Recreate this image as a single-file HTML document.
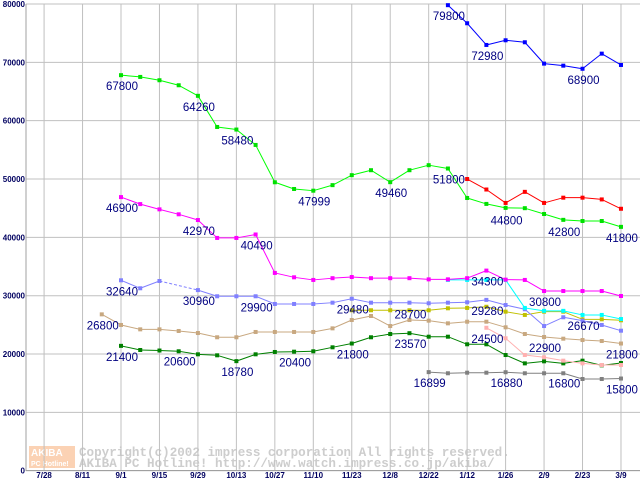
<!DOCTYPE html>
<html><head><meta charset="utf-8"><style>
body{margin:0;background:#fff;width:640px;height:480px;overflow:hidden}
svg{display:block}
</style></head><body>
<svg id="chart" width="640" height="480" xmlns="http://www.w3.org/2000/svg" font-family="'Liberation Sans',sans-serif">
<rect x="29" y="446" width="46" height="22" fill="#fbd2b4"/>
<text x="31" y="456" font-size="10" font-weight="bold" fill="#fff">AKIBA</text>
<text x="31" y="466" font-size="7" font-weight="bold" fill="#fff">PC Hotline!</text>
<text x="79" y="456" font-family="'Liberation Mono',monospace" font-weight="bold" font-size="12.6" fill="#cdcdcd">Copyright(c)2002 impress corporation All rights reserved.</text>
<text x="79" y="467" font-family="'Liberation Mono',monospace" font-weight="bold" font-size="12.6" fill="#cdcdcd">AKIBA PC Hotline!  http://www.watch.impress.co.jp/akiba/</text>
<g id="grid"></g><g id="series"></g><g id="labels"></g>
</svg>
<script>
const yTicks=[0,10000,20000,30000,40000,50000,60000,70000,80000];
const xTickLabels=["7/28","8/11","9/1","9/15","9/29","10/13","10/27","11/10","11/23","12/8","12/22","1/12","1/26","2/9","2/23","3/9"];
// index 0 = 9/1, weekly
const sLime=[[0,67800],[1,67500],[2,66930],[3,66070],[4,64260],[5,58920],[6,58480],[7,55840],[8,49440],[9,48290],[10,47999],[11,48950],[12,50660],[13,51510],[14,49460],[15,51510],[16,52370],[17,51800],[18,46750],[19,45730],[20,45050],[21,45000],[22,44000],[23,43000],[24,42800],[25,42800],[26,41800]];
const sBlue=[[17,79800],[18,76700],[19,72980],[20,73780],[21,73440],[22,69780],[23,69430],[24,68900],[25,71490],[26,69550]];
const sRed=[[18,50000],[19,48200],[20,45900],[21,47800],[22,45900],[23,46800],[24,46800],[25,46500],[26,44900]];
const sMagenta=[[0,46900],[1,45700],[2,44800],[3,43950],[4,42970],[5,39900],[6,39900],[7,40490],[8,33900],[9,33150],[10,32700],[11,33000],[12,33200],[13,33000],[14,33000],[15,33000],[16,32800],[17,32800],[18,33000],[19,34300],[20,32750],[21,32700],[22,30800],[23,30800],[24,30800],[25,30800],[26,29950]];
const sCyan=[[17,32700],[18,32700],[19,32700],[20,32700],[21,27900],[22,27400],[23,27400],[24,26700],[25,26700],[26,26000]];
const sPeri=[[0,32640],[1,31270],[2,32520],[4,30960],[5,29900],[6,29900],[7,29900],[8,28580],[9,28580],[10,28580],[11,28800],[12,29480],[13,28800],[14,28800],[15,28800],[16,28700],[17,28800],[18,28870],[19,29280],[20,28400],[21,27670],[22,24800],[23,26300],[24,25720],[25,24980],[26,24000]];
const sOlive=[[12,27500],[13,27500],[14,27500],[15,27500],[16,27500],[17,27840],[18,27900],[19,28100],[20,27260],[21,26700],[22,27260],[23,27260],[24,25950],[25,25950],[26,25780]];
const sTan=[[-1,26800],[0,24980],[1,24230],[2,24230],[3,23950],[4,23600],[5,22870],[6,22870],[7,23780],[8,23780],[9,23780],[10,23780],[11,24400],[12,25830],[13,26520],[14,24800],[15,25830],[16,25720],[17,25260],[18,25540],[19,25540],[20,24580],[21,23430],[22,22920],[23,22630],[24,22400],[25,22230],[26,21800]];
const sPink=[[19,24500],[20,22700],[21,19830],[22,19440],[23,18860],[24,18400],[25,18120],[26,18120]];
const sDkGreen=[[0,21400],[1,20690],[2,20600],[3,20470],[4,19950],[5,19780],[6,18780],[7,19950],[8,20350],[9,20400],[10,20470],[11,21150],[12,21800],[13,22870],[14,23430],[15,23570],[16,22970],[17,22970],[18,21670],[19,21670],[20,19830],[21,18400],[22,18750],[23,18400],[24,18860],[25,18060],[26,18460]];
const sGray=[[16,16899],[17,16700],[18,16800],[19,16800],[20,16880],[21,16700],[22,16700],[23,16700],[24,15720],[25,15720],[26,15800]];
const valueLabels=[["79800",17,79800],["72980",19,72980],["68900",24,68900],["67800",0,67800],["64260",4,64260],["58480",6,58480],["47999",10,47999],["49460",14,49460],["51800",17,51800],["44800",20,44800],["42800",23,42800],["41800",26,41800],["46900",0,46900],["42970",4,42970],["40490",7,40490],["34300",19,34300],["30800",22,30800],["32640",0,32640],["30960",4,30960],["29900",7,29900],["29480",12,29480],["28700",15,28700],["29280",19,29280],["26670",24,26670],["26800",-1,26800],["24500",19,24500],["22900",22,22900],["21800",12,21800],["21800",26,21800],["23570",15,23570],["21400",0,21400],["20600",3,20600],["18780",6,18780],["20400",9,20400],["16899",16,16899],["16880",20,16880],["16800",23,16800],["15800",26,15800]];
const NS="http://www.w3.org/2000/svg";
const X=i=>121+i*19.23;
const Y=v=>470.7-v*466.7/80000;
function mk(tag,attrs,parent){const e=document.createElementNS(NS,tag);for(const k in attrs)e.setAttribute(k,attrs[k]);parent.appendChild(e);return e;}
const grid=document.getElementById('grid');
yTicks.forEach(v=>{
  const l=mk('line',{x1:26,x2:640,y1:Y(v),y2:Y(v),stroke:'#c0c0c0','stroke-width':1},grid);
  
  
  const t=mk('text',{x:25,y:Y(v)+3,'text-anchor':'end','font-size':8,'font-weight':'bold',fill:'#000060'},grid);
  t.textContent=v;
  
  
});
xTickLabels.forEach((s,k)=>{
  const x=X(2*k-4);
  const l=mk('line',{x1:x,x2:x,y1:4,y2:470,stroke:'#c0c0c0','stroke-width':1},grid);
  
  
  const t=mk('text',{x:x,y:478,'text-anchor':'middle','font-size':8,'font-weight':'bold',fill:'#000060'},grid);
  t.textContent=s;
  
  
});
const ax=mk('line',{x1:26,x2:26,y1:4,y2:471,stroke:'#a0a0a0'},grid);


const ax2=mk('line',{x1:26,x2:640,y1:470.5,y2:470.5,stroke:'#a0a0a0'},grid);


const sg=document.getElementById('series');
function draw(data,color,name,mcol){
  const g=mk('g',{},sg);
  
  
  for(let k=1;k<data.length;k++){
    const a=data[k-1],b=data[k];
    const seg=mk('line',{x1:X(a[0]),y1:Y(a[1]),x2:X(b[0]),y2:Y(b[1]),stroke:color,'stroke-width':1},g);
    if(b[0]-a[0]>1)seg.setAttribute('stroke-dasharray','3,2');
  }
  data.forEach(p=>{
    const r=mk('rect',{x:X(p[0])-2,y:Y(p[1])-2,width:4,height:4,fill:mcol||color},g);
    
    
  });
}
draw(sGray,'#808080','series-gray');
draw(sDkGreen,'#008000','series-darkgreen');
draw(sPink,'#ffb0b0','series-pink');
draw(sTan,'#c8a880','series-tan');
draw(sOlive,'#c0c000','series-olive');
draw(sPeri,'#8080ff','series-periwinkle');
draw(sCyan,'#00ffff','series-cyan');
draw(sMagenta,'#ff00ff','series-magenta');
draw(sRed,'#ff0000','series-red');
draw(sBlue,'#0000ff','series-blue');
draw(sLime,'#00ff00','series-lime','#00e000');
const lg=document.getElementById('labels');
valueLabels.forEach(v=>{
  const t=mk('text',{x:X(v[1])-15,y:Y(v[2])+15,'font-size':11.5,fill:'#000080'},lg);
  t.textContent=v[0];
  
  
});
</script>
</body></html>
